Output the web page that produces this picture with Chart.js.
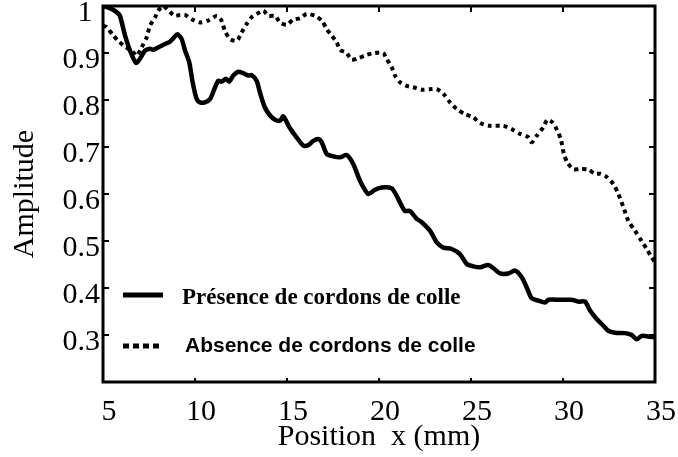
<!DOCTYPE html>
<html>
<head>
<meta charset="utf-8">
<script src="https://cdn.jsdelivr.net/npm/chart.js@4/dist/chart.umd.min.js"></script>
<style>
  html, body { margin: 0; padding: 0; background: #fff; }
  #wrap { width: 678px; height: 457px; }
</style>
</head>
<body>
<div id="wrap"><canvas id="c" width="678" height="457"></canvas></div>
<script>
// ---- data ----
const xTitle = 'Position  x (mm)';
const yTitle = 'Amplitude';
const seriesLabels = ['Présence de cordons de colle', 'Absence de cordons de colle'];
const xRange = [5, 35];
const yRange = [0.2, 1.0];

const presence = [
  [5.0,1.0],[5.4,0.995],[5.74,0.987],[5.92,0.979],[6.2,0.937],[6.47,0.905],[6.79,0.879],[7.0,0.887],
  [7.28,0.905],[7.55,0.909],[7.73,0.907],[8.1,0.914],[8.37,0.919],[8.64,0.924],[8.86,0.933],[9.04,0.94],
  [9.27,0.93],[9.46,0.905],[9.69,0.88],[9.87,0.838],[10.09,0.802],[10.27,0.795],[10.54,0.795],[10.82,0.802],
  [11.09,0.827],[11.27,0.841],[11.45,0.839],[11.68,0.845],[11.86,0.839],[12.08,0.852],[12.35,0.86],[12.62,0.857],
  [12.9,0.852],[13.08,0.853],[13.35,0.841],[13.53,0.816],[13.8,0.784],[14.08,0.767],[14.35,0.758],[14.62,0.756],
  [14.8,0.765],[15.13,0.742],[15.53,0.72],[15.89,0.703],[16.16,0.704],[16.43,0.713],[16.7,0.717],[16.89,0.71],
  [17.16,0.685],[17.52,0.68],[17.88,0.678],[18.24,0.683],[18.6,0.664],[18.97,0.628],[19.42,0.6],[19.78,0.609],
  [20.15,0.614],[20.69,0.612],[20.96,0.596],[21.14,0.582],[21.41,0.564],[21.68,0.564],[22.05,0.547],[22.32,0.54],
  [22.77,0.522],[23.14,0.497],[23.5,0.486],[23.95,0.483],[24.4,0.472],[24.77,0.451],[25.13,0.446],[25.49,0.444],
  [25.94,0.449],[26.22,0.442],[26.58,0.431],[27.03,0.431],[27.39,0.437],[27.76,0.423],[28.03,0.401],[28.3,0.378],
  [28.66,0.373],[29.02,0.369],[29.2,0.375],[29.84,0.375],[30.47,0.375],[30.83,0.371],[31.2,0.371],[31.47,0.352],
  [31.83,0.334],[32.19,0.32],[32.46,0.309],[32.83,0.305],[33.37,0.304],[33.73,0.3],[34.0,0.291],[34.27,0.298],
  [34.64,0.297],[35.0,0.295]
];

const absence = [
  [5.0,0.958],[5.2,0.955],[5.56,0.937],[5.83,0.926],[6.1,0.916],[6.38,0.909],[6.65,0.901],[6.83,0.894],
  [7.1,0.912],[7.37,0.933],[7.55,0.958],[7.83,0.976],[8.0,0.99],[8.28,1.0],[8.64,0.987],[8.91,0.979],
  [9.18,0.981],[9.46,0.981],[9.82,0.972],[10.27,0.965],[10.72,0.969],[11.18,0.979],[11.4,0.972],[11.63,0.947],
  [11.9,0.93],[12.27,0.926],[12.54,0.944],[12.81,0.962],[13.08,0.976],[13.35,0.983],[13.71,0.99],[13.99,0.979],
  [14.35,0.979],[14.62,0.965],[14.98,0.96],[15.34,0.971],[15.71,0.974],[16.07,0.983],[16.52,0.979],[16.89,0.969],
  [17.16,0.951],[17.43,0.937],[17.7,0.923],[17.88,0.907],[18.24,0.9],[18.51,0.886],[18.88,0.889],[19.33,0.896],
  [19.78,0.9],[20.23,0.9],[20.42,0.887],[20.69,0.87],[20.87,0.852],[21.14,0.838],[21.5,0.83],[21.86,0.827],
  [22.32,0.822],[22.77,0.823],[23.14,0.823],[23.5,0.813],[23.86,0.795],[24.22,0.781],[24.67,0.77],[25.13,0.763],
  [25.49,0.751],[26.03,0.745],[26.76,0.745],[27.21,0.738],[27.66,0.728],[28.11,0.721],[28.3,0.71],[28.57,0.724],
  [28.93,0.742],[29.15,0.758],[29.44,0.752],[29.66,0.737],[29.88,0.717],[30.05,0.685],[30.24,0.667],[30.56,0.653],
  [30.92,0.653],[31.37,0.652],[31.74,0.643],[32.01,0.643],[32.38,0.636],[32.74,0.621],[33.01,0.6],[33.28,0.572],
  [33.55,0.543],[33.91,0.522],[34.27,0.5],[34.55,0.483],[34.82,0.465],[35.0,0.455]
];

const toPoints = arr => arr.map(([x, y]) => ({ x, y }));

Chart.defaults.font.family = '"Liberation Serif", "Times New Roman", serif';
Chart.defaults.color = '#000';

// frame with inward ticks on all four sides, drawn from the scales' ticks
const framePlugin = {
  id: 'frame',
  afterDraw(chart) {
    const { ctx, chartArea: a, scales } = chart;
    ctx.save();
    ctx.strokeStyle = '#000';
    ctx.lineWidth = 2;
    const tl = 6;
    ctx.beginPath();
    scales.x.ticks.forEach(t => {
      const px = scales.x.getPixelForValue(t.value);
      ctx.moveTo(px, a.bottom); ctx.lineTo(px, a.bottom - tl + 2);
      ctx.moveTo(px, a.top); ctx.lineTo(px, a.top + tl);
    });
    scales.y.ticks.forEach(t => {
      const py = scales.y.getPixelForValue(t.value);
      ctx.moveTo(a.left, py); ctx.lineTo(a.left + tl, py);
      ctx.moveTo(a.right, py); ctx.lineTo(a.right - tl, py);
    });
    ctx.stroke();
    ctx.lineWidth = 3;
    ctx.strokeRect(a.left, a.top, a.right - a.left, a.bottom - a.top);
    ctx.restore();
  }
};

// legend inside the plot area
const innerLegend = {
  id: 'innerLegend',
  afterDraw(chart, args, opts) {
    const { ctx } = chart;
    ctx.save();
    chart.data.datasets.forEach((ds, i) => {
      const e = opts.entries[i];
      ctx.strokeStyle = ds.borderColor;
      ctx.lineWidth = e.lineWidth;
      ctx.setLineDash(e.dash);
      ctx.lineCap = 'butt';
      ctx.beginPath();
      ctx.moveTo(e.x0, e.y); ctx.lineTo(e.x1, e.y);
      ctx.stroke();
      ctx.setLineDash([]);
      ctx.fillStyle = '#000';
      ctx.font = e.font;
      ctx.textAlign = 'left';
      ctx.textBaseline = 'middle';
      ctx.fillText(ds.label, e.tx, e.ty);
    });
    ctx.restore();
  }
};

new Chart(document.getElementById('c'), {
  type: 'line',
  data: {
    datasets: [
      {
        label: seriesLabels[0],
        data: toPoints(presence),
        borderColor: '#000',
        borderWidth: 4.5,
        pointRadius: 0,
        tension: 0.25,
        fill: false
      },
      {
        label: seriesLabels[1],
        data: toPoints(absence),
        borderColor: '#000',
        borderWidth: 4,
        borderDash: [4, 4],
        borderCapStyle: 'butt',
        pointRadius: 0,
        tension: 0.25,
        fill: false
      }
    ]
  },
  options: {
    responsive: false,
    animation: false,
    layout: { padding: { left: 0, right: 23, top: 6, bottom: 0 } },
    plugins: {
      legend: { display: false },
      tooltip: { enabled: false },
      innerLegend: {
        entries: [
          { x0: 123, x1: 163, y: 295, lineWidth: 5, dash: [], tx: 182, ty: 298,
            font: 'bold 23px "Liberation Serif", serif' },
          { x0: 123, x1: 162, y: 346, lineWidth: 5, dash: [6, 4], tx: 185, ty: 346,
            font: 'bold 21px "Liberation Sans", Arial, sans-serif' }
        ]
      }
    },
    scales: {
      x: {
        type: 'linear',
        min: xRange[0],
        max: xRange[1],
        grid: { display: false, drawTicks: false },
        border: { display: false },
        ticks: {
          stepSize: 5,
          padding: 12,
          labelOffset: 6,
          maxRotation: 0,
          font: { size: 30 },
          color: '#000',
          callback: v => String(v)
        },
        title: {
          display: true,
          text: xTitle,
          font: { size: 30 },
          color: '#000',
          padding: { top: 0, bottom: 2 }
        },
        afterFit: s => { s.height = 75; s.paddingLeft = 0; s.paddingRight = 0; }
      },
      y: {
        type: 'linear',
        min: yRange[0],
        max: yRange[1],
        grid: { display: false, drawTicks: false },
        border: { display: false },
        ticks: {
          stepSize: 0.1,
          padding: 3,
          labelOffset: 7,
          font: { size: 30 },
          color: '#000',
          callback: v => (Math.abs(v - 0.2) < 1e-6 ? '' : (Math.abs(v - 1) < 1e-6 ? '1 ' : v.toFixed(1)))
        },
        title: {
          display: true,
          text: yTitle,
          font: { size: 30 },
          color: '#000',
          padding: { top: 7, bottom: 0 }
        },
        afterFit: s => { s.width = 103; s.paddingTop = 0; s.paddingBottom = 0; }
      }
    }
  },
  plugins: [framePlugin, innerLegend]
});
</script>
</body>
</html>
